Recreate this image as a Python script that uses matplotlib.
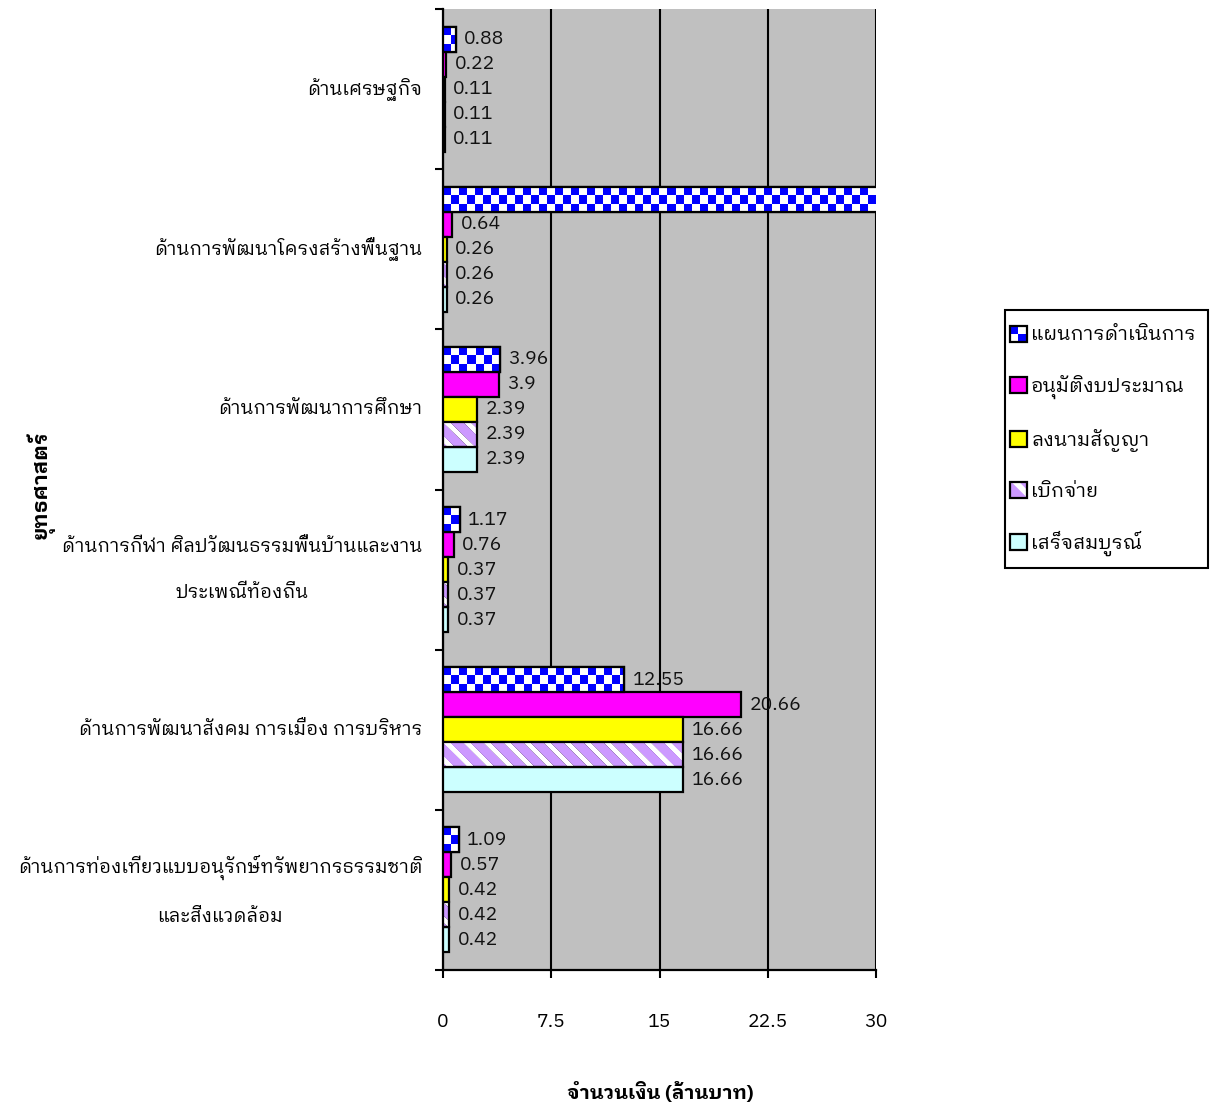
import matplotlib
matplotlib.use("Agg")
import matplotlib.pyplot as plt
import numpy as np
from matplotlib.patches import Rectangle
from matplotlib.legend_handler import HandlerBase

plt.rcParams['font.family'] = ['IBM Plex Sans Thai Looped', 'DejaVu Sans']
plt.rcParams['hatch.linewidth'] = 4.0

# data
categories = [
    'ด้านเศรษฐกิจ',
    'ด้านการพัฒนาโครงสร้างพื้นฐาน',
    'ด้านการพัฒนาการศึกษา',
    'ด้านการกีฬา ศิลปวัฒนธรรมพื้นบ้านและงาน\nประเพณีท้องถิ่น',
    'ด้านการพัฒนาสังคม การเมือง การบริหาร',
    'ด้านการท่องเที่ยวแบบอนุรักษ์ทรัพยากรธรรมชาติ\nและสิ่งแวดล้อม',
]
series_names = ['แผนการดำเนินการ', 'อนุมัติงบประมาณ', 'ลงนามสัญญา', 'เบิกจ่าย', 'เสร็จสมบูรณ์']
plan = [0.88, 33.0, 3.96, 1.17, 12.55, 1.09]      # 2nd value runs past the axis, label not shown
approved = [0.22, 0.64, 3.9, 0.76, 20.66, 0.57]
contract = [0.11, 0.26, 2.39, 0.37, 16.66, 0.42]
disbursed = [0.11, 0.26, 2.39, 0.37, 16.66, 0.42]
completed = [0.11, 0.26, 2.39, 0.37, 16.66, 0.42]
xticks = [0, 7.5, 15, 22.5, 30]
xtick_labels = ['0', '7.5', '15', '22.5', '30']

all_series = [plan, approved, contract, disbursed, completed]
XMAX = 30
FS = 14

fig = plt.figure(figsize=(12.1, 11.09), dpi=100)
ax_w_px, ax_h_px = 433, 961
ax = fig.add_axes([443/1210, 1 - 970/1109, ax_w_px/1210, ax_h_px/1109])
ax.set_facecolor('#C0C0C0')

n = len(categories)
y = np.arange(n)
h = 0.156
offsets = (np.arange(5) - 2) * h
px_per_x = ax_w_px / XMAX
px_per_y = ax_h_px / n

# checkerboard bars (plan)
cell_w = XMAX / 54.0
plan_bars = ax.barh(y + offsets[0], plan, height=h, color='white',
                    edgecolor='black', linewidth=1.6, zorder=3)
for b, v in zip(plan_bars, plan):
    vv = min(v, XMAX)
    ncols = max(1, int(round(vv / cell_w)))
    img = (np.add.outer(np.arange(3), np.arange(ncols)) % 2 == 0)
    rgb = np.where(img[..., None], [0, 0, 1.0], [1.0, 1.0, 1.0])
    yc = b.get_y()
    im = ax.imshow(rgb, extent=(0, ncols * cell_w, yc + h, yc), aspect='auto',
                   interpolation='nearest', zorder=3.5)
    im.set_clip_path(b)
ax.barh(y + offsets[0], plan, height=h, fill=False, edgecolor='black',
        linewidth=1.6, zorder=4)

ax.barh(y + offsets[1], approved, height=h, color='#FF00FF', edgecolor='black',
        linewidth=1.6, zorder=3)
ax.barh(y + offsets[2], contract, height=h, color='#FFFF00', edgecolor='black',
        linewidth=1.6, zorder=3)

# diagonal white stripes on lavender (disbursed)
dis_bars = ax.barh(y + offsets[3], disbursed, height=h, color='#CC99FF',
                   linewidth=0, zorder=3)
for b, v in zip(dis_bars, disbursed):
    wpx = max(1, int(round(min(v, XMAX) * px_per_x)))
    hpx = max(1, int(round(h * px_per_y)))
    xx, yy = np.meshgrid(np.arange(wpx), np.arange(hpx))
    white = ((xx - yy) % 20) < 7
    rgba = np.zeros((hpx, wpx, 4))
    rgba[white] = [1, 1, 1, 1]
    yc = b.get_y()
    im = ax.imshow(rgba, extent=(0, min(v, XMAX), yc + h, yc), aspect='auto',
                   interpolation='bilinear', zorder=3.5)
    im.set_clip_path(b)
ax.barh(y + offsets[3], disbursed, height=h, fill=False, edgecolor='black',
        linewidth=1.6, zorder=4)
ax.barh(y + offsets[4], completed, height=h, color='#CCFFFF', edgecolor='black',
        linewidth=1.6, zorder=3)

# value labels
for s, vals in enumerate(all_series):
    for i, v in enumerate(vals):
        if v > XMAX:
            continue
        ax.annotate(f'{v:g}', (v, y[i] + offsets[s]), xytext=(6, 0),
                    textcoords='offset points', ha='left', va='center',
                    fontsize=FS, color='#111111', zorder=6, annotation_clip=False)

ax.set_xlim(0, XMAX)
ax.set_ylim(n - 0.5, -0.5)

ax.set_xticks(xticks)
ax.set_xticklabels(xtick_labels, fontsize=FS)
ax.tick_params(axis='x', direction='out', length=6, width=1.5, pad=25)
ax.xaxis.grid(True, color='black', linewidth=1.5, zorder=1)
ax.set_axisbelow(True)

ax.set_yticks(np.arange(n + 1) - 0.5)
ax.set_yticklabels([])
ax.tick_params(axis='y', which='major', direction='out', length=6, width=1.5)

# category labels
for i, lab in enumerate(categories):
    ax.annotate(lab, (0, y[i]), xycoords=('axes fraction', 'data'),
                xytext=(-15, 0), textcoords='offset points', ha='right', va='center',
                multialignment='center', linespacing=3.0, fontsize=13.5,
                annotation_clip=False)

for side in ['top', 'right']:
    ax.spines[side].set_visible(False)
for side in ['left', 'bottom']:
    ax.spines[side].set_linewidth(1.6)

fig.text(660/1210, 1 - 1092/1109, 'จำนวนเงิน (ล้านบาท)', ha='center', va='center',
         fontsize=FS, fontweight='bold')
fig.text(40/1210, 1 - 485/1109, 'ยุทธศาสตร์', ha='center', va='center',
         rotation=90, fontsize=15, fontweight='bold')


# legend
class CheckerHandler(HandlerBase):
    def create_artists(self, legend, orig_handle, xdescent, ydescent, width, height,
                       fontsize, trans):
        arts = []
        w2, h2 = width / 2, height / 2
        cols = [['#0000FF', 'white'], ['white', '#0000FF']]
        for r in range(2):
            for c in range(2):
                arts.append(Rectangle((-xdescent + c * w2, -ydescent + (1 - r) * h2),
                                      w2, h2, facecolor=cols[r][c], edgecolor='none',
                                      transform=trans))
        arts.append(Rectangle((-xdescent, -ydescent), width, height, fill=False,
                              edgecolor='black', linewidth=1.6, transform=trans))
        return arts


checker_handle = Rectangle((0, 0), 1, 1)
h_app = Rectangle((0, 0), 1, 1, facecolor='#FF00FF', edgecolor='black', linewidth=1.6)
h_con = Rectangle((0, 0), 1, 1, facecolor='#FFFF00', edgecolor='black', linewidth=1.6)
h_dis = (Rectangle((0, 0), 1, 1, facecolor='#CC99FF', edgecolor='white', hatch='\\', linewidth=0),
         Rectangle((0, 0), 1, 1, fill=False, edgecolor='black', linewidth=1.6))
h_com = Rectangle((0, 0), 1, 1, facecolor='#CCFFFF', edgecolor='black', linewidth=1.6)

leg = fig.legend([checker_handle, h_app, h_con, h_dis, h_com], series_names,
                 handler_map={checker_handle: CheckerHandler()},
                 loc='upper left', bbox_to_anchor=(1010/1210, 1 - 326/1109),
                 bbox_transform=fig.transFigure, borderaxespad=0,
                 fontsize=FS, frameon=False,
                 handlelength=0.85, handleheight=0.85, handletextpad=0.25,
                 labelspacing=1.55, borderpad=0)
fig.add_artist(Rectangle((1005/1210, 1 - 568/1109), 203/1210, 258/1109,
                         transform=fig.transFigure, facecolor='white',
                         edgecolor='black', linewidth=1.5, zorder=0))

fig.savefig('out.png', dpi=100)
